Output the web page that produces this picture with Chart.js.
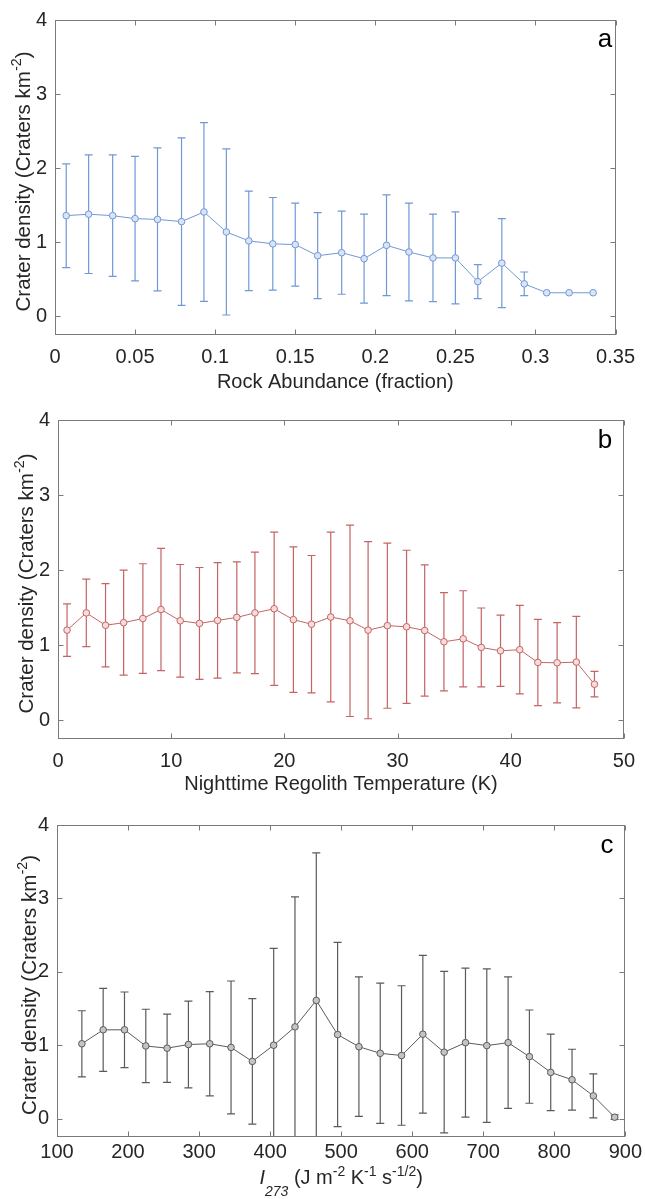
<!DOCTYPE html>
<html>
<head>
<meta charset="utf-8">
<script src="https://cdn.jsdelivr.net/npm/chart.js@4.4.1/dist/chart.umd.min.js"></script>
<style>
  html, body { margin: 0; padding: 0; background: #fff; }
  body { width: 645px; height: 1199px; position: relative; overflow: hidden; }
  canvas { position: absolute; left: 0; }
</style>
</head>
<body>
<canvas id="chartA" width="645" height="400" style="top:0"></canvas>
<canvas id="chartB" width="645" height="400" style="top:400px"></canvas>
<canvas id="chartC" width="645" height="399" style="top:800px"></canvas>
<script>
// Panel a - rock abundance
const rockX = [0.007, 0.021, 0.036, 0.050, 0.064, 0.079, 0.093, 0.107, 0.121, 0.136, 0.150, 0.164,
  0.179, 0.193, 0.207, 0.221, 0.236, 0.250, 0.264, 0.279, 0.293, 0.307, 0.321, 0.336];
const rockY = [1.36, 1.38, 1.36, 1.32, 1.31, 1.28, 1.41, 1.14, 1.02, 0.98, 0.97, 0.82,
  0.86, 0.78, 0.96, 0.87, 0.79, 0.79, 0.47, 0.72, 0.44, 0.32, 0.32, 0.32];
const rockErr = [0.70, 0.80, 0.82, 0.84, 0.965, 1.13, 1.205, 1.12, 0.67, 0.625, 0.56, 0.58,
  0.56, 0.60, 0.68, 0.66, 0.59, 0.62, 0.23, 0.60, 0.16, 0, 0, 0];
const rockTicks = [0, 0.05, 0.1, 0.15, 0.2, 0.25, 0.3, 0.35];

// Panel b - nighttime regolith temperature
const tempX = [0.8, 2.5, 4.2, 5.8, 7.5, 9.1, 10.8, 12.5, 14.1, 15.8, 17.4, 19.1, 20.8, 22.4, 24.1,
  25.8, 27.4, 29.1, 30.8, 32.4, 34.1, 35.8, 37.4, 39.1, 40.8, 42.4, 44.1, 45.8, 47.4];
const tempY = [1.20, 1.43, 1.265, 1.30, 1.355, 1.475, 1.325, 1.29, 1.33, 1.37, 1.43, 1.485, 1.34, 1.28, 1.375,
  1.325, 1.20, 1.26, 1.245, 1.195, 1.045, 1.085, 0.97, 0.925, 0.94, 0.77, 0.765, 0.775, 0.48];
const tempErr = [0.35, 0.45, 0.555, 0.70, 0.73, 0.815, 0.75, 0.745, 0.77, 0.74, 0.81, 1.02, 0.97, 0.915, 1.13,
  1.275, 1.18, 1.10, 1.02, 0.875, 0.655, 0.64, 0.525, 0.475, 0.59, 0.575, 0.535, 0.61, 0.17];
const tempTicks = [0, 10, 20, 30, 40, 50];

// Panel c - thermal inertia I273
const inertiaX = [135, 165, 195, 225, 255, 285, 315, 345, 375, 405, 435, 465, 495,
  525, 555, 585, 615, 645, 675, 705, 735, 765, 795, 825, 855, 885];
const inertiaY = [1.02, 1.21, 1.21, 0.99, 0.96, 1.01, 1.02, 0.97, 0.78, 1.00, 1.25, 1.61, 1.145,
  0.98, 0.89, 0.86, 1.15, 0.905, 1.035, 0.995, 1.035, 0.845, 0.63, 0.53, 0.31, 0.02];
const inertiaErr = [0.45, 0.565, 0.515, 0.50, 0.465, 0.59, 0.71, 0.905, 0.855, 1.32, 1.77, 2.01, 1.255,
  0.95, 0.955, 0.95, 1.075, 1.10, 1.015, 1.045, 0.895, 0.635, 0.52, 0.415, 0.30, 0.03];
const inertiaTicks = [100, 200, 300, 400, 500, 600, 700, 800, 900];

const densityTicks = [0, 1, 2, 3, 4];

const FAMILY = '"Liberation Sans", Arial, Helvetica, sans-serif';
const TEXT = '#262626';
const AXIS = '#7a7a7a';

// draws a line of text with super/subscripts, optionally rotated
function drawRich(ctx, segs, cx, cy, rotated, size) {
  ctx.save();
  ctx.translate(cx, cy);
  if (rotated) ctx.rotate(-Math.PI / 2);
  const fontFor = s => (s.it ? 'italic ' : '') + ((s.sup || s.sub) ? size * 0.7 : size) + 'px ' + FAMILY;
  let total = 0;
  const widths = segs.map(s => {
    ctx.font = fontFor(s);
    const w = ctx.measureText(s.t).width;
    total += w;
    return w;
  });
  let x = -total / 2;
  ctx.fillStyle = TEXT;
  ctx.textBaseline = 'alphabetic';
  ctx.textAlign = 'left';
  segs.forEach((s, i) => {
    ctx.font = fontFor(s);
    const dy = s.sup ? -size * 0.42 : (s.sub ? size * 0.6 : 0);
    ctx.fillText(s.t, x, dy);
    x += widths[i];
  });
  ctx.restore();
}

// error bars under the markers
const errorBars = {
  id: 'errorBars',
  beforeDatasetsDraw(chart, args, opts) {
    const { ctx, chartArea: a, scales } = chart;
    ctx.save();
    ctx.beginPath();
    ctx.rect(a.left, a.top, a.right - a.left, a.bottom - a.top);
    ctx.clip();
    ctx.strokeStyle = opts.color;
    ctx.lineWidth = 1.2;
    opts.xs.forEach((xv, i) => {
      const e = opts.err[i];
      if (!e) return;
      const px = scales.x.getPixelForValue(xv);
      const top = scales.y.getPixelForValue(opts.ys[i] + e);
      const bot = scales.y.getPixelForValue(opts.ys[i] - e);
      ctx.beginPath();
      ctx.moveTo(px, top); ctx.lineTo(px, bot);
      ctx.moveTo(px - 4, top); ctx.lineTo(px + 4, top);
      ctx.moveTo(px - 4, bot); ctx.lineTo(px + 4, bot);
      ctx.stroke();
    });
    ctx.restore();
  }
};

// box, inward ticks on all four sides, titles and panel letter
const frame = {
  id: 'frame',
  afterDraw(chart, args, opts) {
    const { ctx, chartArea: a, scales } = chart;
    const l = Math.round(a.left) + 0.5, r = Math.round(a.right) - 0.5;
    const t = Math.round(a.top) + 0.5, b = Math.round(a.bottom) - 0.5;
    ctx.save();
    ctx.strokeStyle = AXIS;
    ctx.lineWidth = 1;
    ctx.strokeRect(l, t, r - l, b - t);
    ctx.beginPath();
    scales.x.ticks.forEach(tk => {
      const px = Math.round(scales.x.getPixelForValue(tk.value)) + 0.5;
      ctx.moveTo(px, b); ctx.lineTo(px, b - 5);
      ctx.moveTo(px, t); ctx.lineTo(px, t + 5);
    });
    scales.y.ticks.forEach(tk => {
      const py = Math.round(scales.y.getPixelForValue(tk.value)) + 0.5;
      ctx.moveTo(l, py); ctx.lineTo(l + 5, py);
      ctx.moveTo(r, py); ctx.lineTo(r - 5, py);
    });
    ctx.stroke();
    ctx.restore();

    drawRich(ctx, opts.xTitle, (a.left + a.right) / 2, opts.xTitleY, false, 20);
    drawRich(ctx, opts.yTitle, opts.yTitleX, (a.top + a.bottom) / 2 + 4, true, 20.5);

    ctx.save();
    ctx.font = '26px ' + FAMILY;
    ctx.fillStyle = '#000';
    ctx.textAlign = 'center';
    ctx.fillText(opts.letter, opts.letterX, opts.letterY);
    ctx.restore();
  }
};

const yTitle = [{ t: 'Crater density (Craters km' }, { t: '-2', sup: true }, { t: ')' }];

function makePanel(id, p) {
  const tickFont = { family: FAMILY, size: 20 };
  new Chart(document.getElementById(id), {
    type: 'line',
    data: {
      datasets: [{
        data: p.xs.map((x, i) => ({ x, y: p.ys[i] })),
        borderColor: p.color,
        borderWidth: 1,
        pointRadius: 3.3,
        pointBorderWidth: 1,
        pointBorderColor: p.color,
        pointBackgroundColor: p.fill,
        tension: 0
      }]
    },
    options: {
      responsive: false,
      animation: false,
      events: [],
      layout: { padding: { top: p.area.top, right: p.width - p.area.right, left: 0, bottom: 0 } },
      plugins: {
        legend: { display: false },
        tooltip: { enabled: false },
        errorBars: { xs: p.xs, ys: p.ys, err: p.err, color: p.color },
        frame: p.frame
      },
      scales: {
        x: {
          type: 'linear',
          min: p.xTicks[0],
          max: p.xTicks[p.xTicks.length - 1],
          afterBuildTicks: s => { s.ticks = p.xTicks.map(v => ({ value: v })); },
          afterFit: s => { s.height = p.height - p.area.bottom; },
          grid: { display: false, drawTicks: false },
          border: { display: false },
          ticks: { font: tickFont, color: TEXT, padding: p.xPad, maxRotation: 0, autoSkip: false,
            callback: v => String(v) }
        },
        y: {
          type: 'linear',
          min: -0.25,
          max: 4,
          afterBuildTicks: s => { s.ticks = densityTicks.map(v => ({ value: v })); },
          afterFit: s => { s.width = p.area.left; },
          grid: { display: false, drawTicks: false },
          border: { display: false },
          ticks: { font: tickFont, color: TEXT, padding: 8, callback: v => String(v) }
        }
      }
    },
    plugins: [errorBars, frame]
  });
}

makePanel('chartA', {
  xs: rockX, ys: rockY, err: rockErr, xTicks: rockTicks,
  color: '#6f98d6', fill: '#dbe3f6',
  width: 645, height: 400, area: { left: 55, right: 623, top: 15, bottom: 335 }, xPad: 10,
  frame: { xTitle: [{ t: 'Rock Abundance (fraction)' }], xTitleY: 388,
    yTitle: yTitle, yTitleX: 30, letter: 'a', letterX: 605, letterY: 47 }
});

makePanel('chartB', {
  xs: tempX, ys: tempY, err: tempErr, xTicks: tempTicks,
  color: '#c46464', fill: '#f8dcdc',
  width: 645, height: 400, area: { left: 58, right: 627, top: 20, bottom: 339 }, xPad: 10,
  frame: { xTitle: [{ t: 'Nighttime Regolith Temperature (K)' }], xTitleY: 390,
    yTitle: yTitle, yTitleX: 33, letter: 'b', letterX: 605, letterY: 48 }
});

makePanel('chartC', {
  xs: inertiaX, ys: inertiaY, err: inertiaErr, xTicks: inertiaTicks,
  color: '#5a5a5a', fill: '#c4c4c4',
  width: 645, height: 399, area: { left: 57, right: 628, top: 25, bottom: 337 }, xPad: 3,
  frame: {
    xTitle: [{ t: 'I', it: true }, { t: '273', it: true, sub: true }, { t: ' (J m' }, { t: '-2', sup: true },
      { t: ' K' }, { t: '-1', sup: true }, { t: ' s' }, { t: '-1/2', sup: true }, { t: ')' }],
    xTitleY: 384, yTitle: yTitle, yTitleX: 36, letter: 'c', letterX: 607, letterY: 53 }
});
</script>
</body>
</html>
